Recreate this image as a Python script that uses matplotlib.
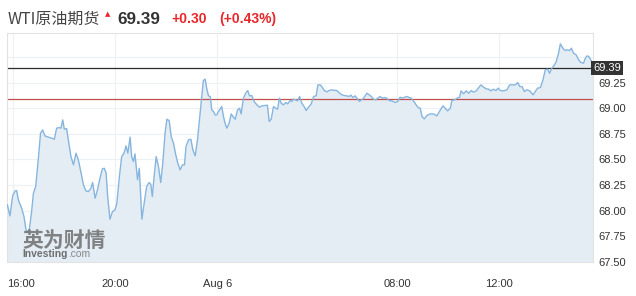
import matplotlib
matplotlib.use("Agg")
import matplotlib.pyplot as plt
import matplotlib.transforms as mtrans
import numpy as np

plt.rcParams['font.family'] = ['Liberation Sans', 'Noto Sans CJK SC', 'DejaVu Sans']

# session hours since 16:00 (daily trading break removed)
hours = [-0.22, -0.12, -0.01, 0.08, 0.14, 0.21, 0.34, 0.43, 0.51, 0.56, 0.64, 0.73, 0.80, 0.89, 0.99,
         1.08, 1.16, 1.25, 1.39, 1.52, 1.62, 1.71, 1.82, 1.88, 1.95, 2.01, 2.10, 2.20, 2.27, 2.37,
         2.47, 2.56, 2.67, 2.76, 2.86, 2.95, 3.05, 3.12, 3.22, 3.31, 3.41, 3.50, 3.58, 3.65, 3.71,
         3.80, 3.90, 4.00, 4.07, 4.17, 4.26, 4.35, 4.43, 4.50, 4.59, 4.65, 4.72, 4.78, 4.88, 4.95,
         5.05, 5.14, 5.24, 5.33, 5.40, 5.46, 5.53, 5.61, 5.70, 5.79, 5.87, 5.96, 6.03, 6.12, 6.20,
         6.29, 6.38, 6.46, 6.55, 6.64, 6.72, 6.78, 6.88, 6.97, 7.05, 7.14, 7.23, 7.31, 7.40, 7.46,
         7.53, 7.59, 7.66, 7.73, 7.79, 7.86, 7.92, 7.99, 8.05, 8.18, 8.25, 8.31, 8.38, 8.47, 8.55,
         8.64, 8.71, 8.80, 8.88, 8.94, 9.03, 9.12, 9.20, 9.27, 9.36, 9.45, 9.56, 9.66, 9.75, 9.88,
         9.97, 10.04, 10.12, 10.21, 10.30, 10.37, 10.44, 10.51, 10.60, 10.69, 10.77, 10.86, 10.93, 10.99, 11.08,
         11.15, 11.23, 11.32, 11.41, 11.49, 11.58, 11.69, 11.78, 11.88, 11.95, 12.04, 12.10, 12.20, 12.30, 12.39,
         12.47, 12.56, 12.69, 12.80, 12.89, 12.98, 13.08, 13.18, 13.24, 13.32, 13.41, 13.48, 13.58, 13.65, 13.74,
         13.87, 13.96, 14.04, 14.13, 14.22, 14.29, 14.39, 14.48, 14.56, 14.65, 14.74, 14.85, 14.98, 15.08, 15.17,
         15.26, 15.35, 15.44, 15.53, 15.61, 15.71, 15.80, 15.88, 15.96, 16.03, 16.12, 16.22, 16.35, 16.48, 16.61,
         16.75, 16.85, 16.94, 17.03, 17.14, 17.20, 17.31, 17.40, 17.50, 17.56, 17.66, 17.76, 17.86, 17.96, 18.05,
         18.16, 18.25, 18.34, 18.44, 18.55, 18.64, 18.73, 18.84, 18.93, 19.01, 19.10, 19.23, 19.36, 19.46, 19.56,
         19.69, 19.78, 19.86, 19.95, 20.04, 20.14, 20.25, 20.38, 20.47, 20.56, 20.67, 20.77, 20.86, 20.95, 21.03,
         21.12, 21.22, 21.29, 21.38, 21.45, 21.51, 21.58, 21.65, 21.71, 21.82, 21.88, 21.97, 22.07, 22.17, 22.26,
         22.36, 22.43, 22.50, 22.56, 22.63, 22.69, 22.73]

prices = [68.057, 67.949, 68.148, 68.193, 68.197, 68.105, 68.024, 67.943, 67.813, 67.796, 67.819, 67.992, 68.170, 68.236, 68.496,
          68.756, 68.788, 68.730, 68.717, 68.707, 68.697, 68.805, 68.811, 68.805, 68.886, 68.795, 68.801, 68.642, 68.528, 68.447,
          68.561, 68.496, 68.366, 68.252, 68.193, 68.187, 68.216, 68.275, 68.122, 68.203, 68.317, 68.408, 68.414, 68.366, 68.138,
          67.917, 67.992, 68.008, 68.073, 68.333, 68.528, 68.561, 68.632, 68.561, 68.717, 68.528, 68.479, 68.554, 68.301, 68.414,
          67.917, 68.073, 68.236, 68.275, 68.258, 68.138, 68.333, 68.528, 68.431, 68.275, 68.463, 68.756, 68.892, 68.879, 68.723,
          68.658, 68.544, 68.463, 68.398, 68.447, 68.447, 68.626, 68.691, 68.697, 68.593, 68.535, 68.691, 68.892, 69.114, 69.270,
          69.283, 69.195, 69.120, 69.114, 68.983, 68.967, 68.935, 68.935, 68.967, 69.016, 68.918, 68.853, 68.805, 68.853, 68.944,
          68.912, 68.892, 68.983, 68.999, 68.944, 69.097, 69.146, 69.172, 69.120, 69.123, 69.065, 69.032, 69.009, 69.022, 69.026,
          69.029, 68.870, 68.892, 69.016, 68.999, 68.990, 69.097, 69.048, 69.032, 69.055, 69.042, 69.075, 69.065, 69.088, 69.081,
          69.071, 69.114, 69.048, 69.016, 68.977, 69.009, 69.042, 69.114, 69.120, 69.227, 69.227, 69.211, 69.172, 69.159, 69.172,
          69.179, 69.175, 69.172, 69.146, 69.130, 69.123, 69.120, 69.114, 69.127, 69.104, 69.120, 69.097, 69.065, 69.081, 69.097,
          69.146, 69.130, 69.114, 69.088, 69.081, 69.097, 69.114, 69.097, 69.104, 69.097, 69.075, 69.071, 69.055, 69.065, 69.107,
          69.097, 69.107, 69.114, 69.104, 69.097, 69.065, 69.032, 69.006, 68.999, 68.918, 68.896, 68.928, 68.944, 68.944, 68.925,
          68.983, 69.022, 68.999, 68.974, 68.999, 69.075, 69.081, 69.097, 69.107, 69.169, 69.140, 69.169, 69.146, 69.172, 69.156,
          69.169, 69.201, 69.227, 69.205, 69.188, 69.185, 69.169, 69.185, 69.172, 69.195, 69.172, 69.169, 69.179, 69.227, 69.227,
          69.227, 69.250, 69.211, 69.211, 69.162, 69.179, 69.169, 69.130, 69.162, 69.195, 69.201, 69.276, 69.374, 69.380, 69.341,
          69.390, 69.422, 69.455, 69.536, 69.627, 69.601, 69.575, 69.562, 69.569, 69.562, 69.585, 69.536, 69.520, 69.471, 69.445,
          69.439, 69.487, 69.510, 69.504, 69.478, 69.445, 69.39]

last_price = 69.39
prev_close = 69.09
title_name = "WTI原油期货"
title_price = "69.39"
title_change = "+0.30"
title_pct = "(+0.43%)"

xtick_pos = [0, 4.0, 8.0, 15.05, 19.03]
xtick_labels = ["16:00", "20:00", "Aug 6", "08:00", "12:00"]
ytick_vals = [67.50, 67.75, 68.00, 68.25, 68.50, 68.75, 69.00, 69.25]
grid_y = [67.75, 68.00, 68.25, 68.50, 68.75, 69.00, 69.25, 69.50]

LAT = ['Liberation Sans', 'DejaVu Sans']

fig = plt.figure(figsize=(6.36, 2.96), dpi=100)
ax = fig.add_axes([7/636, 1-262/296, (593-7)/636, (262-33)/296])
ax.set_xlim(-0.235, 22.73)
ax.set_ylim(67.5, 69.733)

for g in grid_y:
    ax.axhline(g, color='#eef1f4', lw=0.8, zorder=0)
for g in xtick_pos:
    ax.axvline(g, color='#eef1f4', lw=0.8, zorder=0)

ax.fill_between(hours, prices, 67.5, color='#e4edf4', zorder=1, lw=0)
ax.plot(hours, prices, color='#86b5de', lw=1.0, zorder=3)
ax.axhline(prev_close, color='#c0504d', lw=0.9, zorder=2)
ax.axhline(last_price, color='#2b2b2b', lw=0.9, zorder=2)

for s in ax.spines.values():
    s.set_color('#e3e3e3')
    s.set_linewidth(0.8)

ax.set_xticks(xtick_pos)
ax.tick_params(axis='x', length=0, pad=12)
ax.yaxis.tick_right()
ax.set_yticks(ytick_vals)
ax.tick_params(axis='y', length=0, pad=4)
ax.set_xticklabels(xtick_labels, fontsize=8, color='#333333', family=LAT)
ax.set_yticklabels([f"{v:.2f}" for v in ytick_vals], fontsize=8, color='#333333', family=LAT)
first = ax.xaxis.get_major_ticks()[0].label1
first.set_transform(first.get_transform() + mtrans.ScaledTranslation(8/100, 0, fig.dpi_scale_trans))

# last price box
ax.text(1.0, last_price, "69.39", transform=ax.get_yaxis_transform(), ha='left', va='center',
        fontsize=8, color='white', family=LAT,
        bbox=dict(boxstyle='square,pad=0.2', fc='#333333', ec='none'), zorder=5, clip_on=False)

# title
fig.text(8/636, 1-19/296, title_name, fontsize=11.5, color='#444444', va='center', ha='left',
         family=['Noto Sans CJK SC', 'DejaVu Sans'])
fig.text(108/636, 1-14/296, "▲", fontsize=5, color='#e8262a', va='center', ha='center', family=['DejaVu Sans'])
fig.text(117/636, 1-19/296, title_price, fontsize=12.3, color='#333333', fontweight='bold', va='center', ha='left', family=LAT)
fig.text(171/636, 1-19/296, title_change, fontsize=10, color='#e8262a', fontweight='bold', va='center', ha='left', family=LAT)
fig.text(219/636, 1-19/296, title_pct, fontsize=10, color='#e8262a', fontweight='bold', va='center', ha='left', family=LAT)

# watermark
fig.text(22/636, 1-240/296, "英为财情", fontsize=15, color='#6e6e6e', fontweight='bold', va='center', ha='left',
         alpha=0.85, family=['Noto Sans CJK SC', 'DejaVu Sans'])
fig.text(22/636, 1-254/296, "Investing", fontsize=7.4, color='#6e6e6e', fontweight='bold', va='center', ha='left', family=LAT)
fig.text(68/636, 1-254/296, ".com", fontsize=7.4, color='#888888', va='center', ha='left', family=LAT)

fig.savefig("out.png", dpi=100, facecolor='white')
